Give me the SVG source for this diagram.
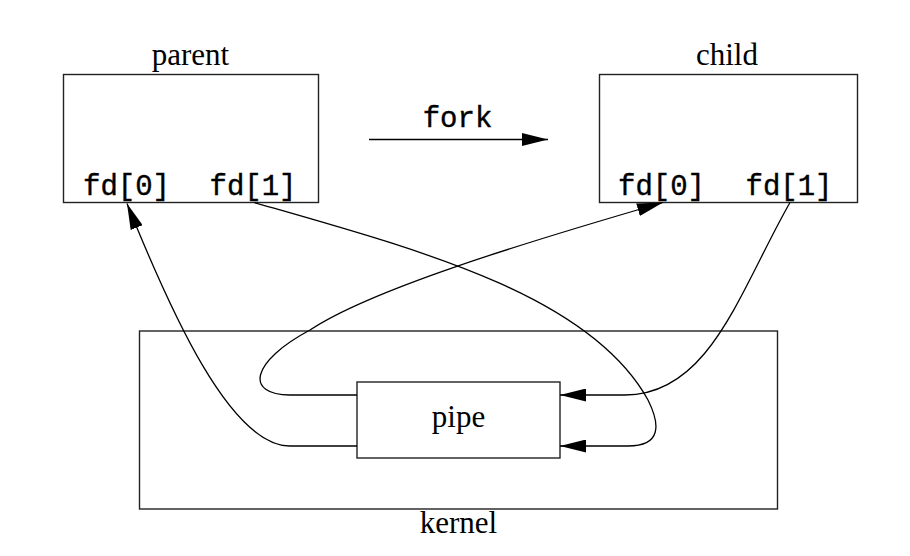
<svg xmlns="http://www.w3.org/2000/svg" width="910" height="556" viewBox="0 0 910 556">
<style>
.box{fill:none;stroke:#222;stroke-width:1.4}
.ser{font-family:"Liberation Serif","Times New Roman",serif;font-size:31px;fill:#000;text-anchor:middle}
.mono{font-family:"Liberation Mono","Courier New",monospace;font-size:29px;fill:#000;stroke:#000;stroke-width:0.4;text-anchor:middle}
.ln{fill:none;stroke:#000;stroke-width:1.3}
</style>
<defs>
<marker id="ah" markerUnits="userSpaceOnUse" orient="auto" markerWidth="27" markerHeight="13" refX="26" refY="6.5" viewBox="0 0 27 13">
<path d="M0,0 L26,6.5 L0,13 z" fill="#000"/>
</marker>
</defs>
<rect width="910" height="556" fill="#fff"/>
<g id="parent">
<rect class="box" x="63.5" y="74.5" width="255" height="128"/>
<text class="ser" x="190.5" y="65">parent</text>
<text class="mono" x="126.5" y="195">fd[0]</text>
<text class="mono" x="253" y="195">fd[1]</text>
</g>
<g id="child">
<rect class="box" x="599.5" y="74.5" width="258" height="128"/>
<text class="ser" x="727" y="65">child</text>
<text class="mono" x="661.5" y="195">fd[0]</text>
<text class="mono" x="789" y="195">fd[1]</text>
</g>
<g id="fork">
<text class="mono" x="457.5" y="126.5">fork</text>
</g>
<g id="kernel">
<rect class="box" x="139.5" y="331" width="638" height="178"/>
<text class="ser" x="458.5" y="533">kernel</text>
</g>
<g id="pipe">
<rect class="box" x="357" y="382" width="203" height="76"/>
<text class="ser" x="458.5" y="426.5">pipe</text>
</g>
<g id="connectors">
<line class="ln" x1="369" y1="139.5" x2="548" y2="139.5" marker-end="url(#ah)"/>
<path class="ln" d="M357,446 L290,446 C230,446 170,310 127,203.5" marker-end="url(#ah)"/>
<path class="ln" d="M357,395 L290,395 C245,395 250,362 310,330 C370,290 520,244 663,202.5" marker-end="url(#ah)"/>
<path class="ln" d="M254,202.5 C420,250 590,295 648,400 C660,424 662,446 628,446 L560,446" marker-end="url(#ah)"/>
<path class="ln" d="M790,202.5 C740,290 710,395 625,395 L560,395" marker-end="url(#ah)"/>
</g>
</svg>
